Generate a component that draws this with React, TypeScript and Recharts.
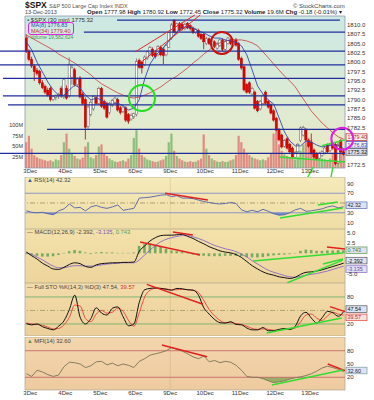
import React from 'react';
import {
  ComposedChart, Bar, Line, Area, XAxis, YAxis, CartesianGrid,
  ReferenceLine, ReferenceDot, ReferenceArea,
} from 'recharts';

const FONT = '"Liberation Sans", Arial, Helvetica, sans-serif';
const W = 374;
const X_DOMAIN: [number, number] = [-0.5, 118.5];

// ---------- categories (30-minute bars, day boundaries in bar units) ----------
const dayLabels = ['3Dec', '4Dec', '5Dec', '6Dec', '9Dec', '10Dec', '11Dec', '12Dec', '13Dec'];
const dayBoundaryBars = [1.5, 14.5, 27.5, 40.5, 53.5, 66.5, 79.5, 92.5, 105.5];
const weekBoundaryBar = 53.5;

// ---------- 30-minute OHLC ----------
const barOpen = [
  1806.5, 1803, 1800.8, 1799, 1797.8, 1797.5, 1794.5, 1793.5, 1792.5, 1793,
  1790, 1790.6, 1791, 1793, 1790.7, 1793, 1791, 1796, 1798, 1794,
  1795.8, 1791.5, 1790, 1782.8, 1786, 1787.5, 1790.5, 1789, 1793, 1789.5,
  1789, 1786.5, 1788.5, 1789.3, 1790, 1787.8, 1786.8, 1787.8, 1786, 1784.8,
  1785.5, 1786, 1800.5, 1800, 1799.3, 1801, 1802.5, 1803.5, 1802.5, 1802,
  1804, 1803.5, 1802, 1804, 1806.5, 1811.3, 1808, 1810.3, 1810.2, 1809,
  1810.4, 1809.8, 1809.2, 1808, 1808.6, 1807.5, 1807.5, 1805, 1806.3, 1804.8,
  1805.5, 1803.8, 1804.5, 1806, 1803.5, 1805, 1806, 1804.5, 1806, 1805,
  1801, 1798.8, 1794, 1794.5, 1791.5, 1792, 1789.5, 1787.5, 1789, 1792,
  1789.5, 1788.6, 1787, 1785, 1782, 1780.5, 1777.5, 1779.5, 1778, 1777,
  1774.5, 1776, 1779, 1780.5, 1782, 1779, 1778.5, 1776.5, 1775.5, 1774.3,
  1775, 1775.7, 1777.8, 1776.3, 1778.3, 1778, 1773, 1779, 1776,
];
const barHigh = [
  1807.5, 1803.5, 1801.5, 1799.5, 1798.5, 1798, 1795.2, 1794, 1793.2, 1793.5,
  1791.2, 1791.4, 1791.8, 1793.6, 1795.8, 1793.8, 1801.3, 1799.5, 1798.5, 1796,
  1796.3, 1792, 1790.6, 1788.5, 1789.8, 1791.2, 1791, 1793.5, 1793.4, 1790,
  1789.4, 1789.4, 1790.2, 1790.8, 1790.5, 1788.3, 1788.4, 1788.2, 1786.4, 1786.3,
  1786.5, 1801, 1801, 1800.4, 1801.8, 1803.2, 1804.4, 1804, 1803, 1804.6,
  1804.5, 1804, 1805, 1808.2, 1810.5, 1811.5, 1810.6, 1810.8, 1810.7, 1810.6,
  1810.8, 1810.2, 1809.6, 1809.2, 1809, 1807.9, 1808, 1806.8, 1806.6, 1806.4,
  1805.9, 1805.4, 1806.3, 1806.4, 1805.9, 1806.8, 1806.4, 1806.3, 1806.5, 1805.4,
  1801.5, 1799.2, 1794.4, 1794.9, 1793.5, 1792.4, 1789.9, 1789.9, 1791.4, 1792.4,
  1789.9, 1789, 1787.4, 1785.4, 1782.4, 1780.9, 1779.4, 1779.9, 1778.4, 1777.4,
  1776.2, 1778.4, 1782.8, 1783, 1782.4, 1779.4, 1780.9, 1776.9, 1775.9, 1776,
  1776.4, 1777.4, 1778.2, 1778.4, 1778.7, 1778.4, 1777.9, 1779.5, 1776.8,
];
const barLow = [
  1802.5, 1800.3, 1798.5, 1795, 1796.5, 1794, 1792.8, 1791.5, 1790.8, 1789.5,
  1789.6, 1789.8, 1790.2, 1790.5, 1790.2, 1790, 1790.5, 1794, 1793.5, 1793.5,
  1790.3, 1788.5, 1779.3, 1782, 1785.5, 1787, 1788.6, 1788.5, 1787.8, 1787.2,
  1784.9, 1786, 1788, 1789, 1786.8, 1786, 1786.3, 1784, 1783.5, 1784.3,
  1784.8, 1785.5, 1798.3, 1797, 1799, 1800.6, 1802, 1801.4, 1801, 1801.6,
  1801.6, 1799.5, 1801.6, 1803.8, 1806, 1807.8, 1807.6, 1808.3, 1808.5, 1808.6,
  1808.9, 1808.5, 1807.6, 1807.6, 1806.6, 1806, 1803.5, 1804.6, 1804.6, 1804.4,
  1803.8, 1803.4, 1804.1, 1803, 1803.2, 1804.7, 1804.6, 1804.2, 1804.2, 1800.4,
  1798, 1792.2, 1791.6, 1791.5, 1791.1, 1787.3, 1786.6, 1787.1, 1788.6, 1788.6,
  1787.6, 1786, 1784.1, 1781.4, 1778.8, 1776.9, 1777.1, 1776.6, 1775.6, 1774.2,
  1774.1, 1775.6, 1778.6, 1780.1, 1778.8, 1777.1, 1775.3, 1774.2, 1773.8, 1773.9,
  1774.6, 1775.3, 1775.6, 1775.9, 1776.6, 1772.45, 1772.6, 1775.6, 1775,
];
const barClose = [
  1803, 1800.8, 1799, 1797.5, 1797, 1794.5, 1793.2, 1792, 1791.2, 1790,
  1790.8, 1791, 1791.4, 1791, 1795.3, 1790.4, 1799.5, 1798.5, 1794, 1795.5,
  1790.7, 1789, 1782.6, 1788, 1789.3, 1790.8, 1789, 1793, 1788.2, 1787.7,
  1785.3, 1789, 1789.8, 1790.4, 1787.2, 1786.5, 1788, 1784.5, 1784.2, 1785.8,
  1786.2, 1800.2, 1798.7, 1798.5, 1801.4, 1802.8, 1804, 1801.8, 1801.5, 1804.2,
  1802, 1801.8, 1804.5, 1807.9, 1810, 1808.1, 1810.3, 1808.7, 1809, 1810.2,
  1809.2, 1809, 1808, 1808.8, 1807, 1806.4, 1805.5, 1806.3, 1805, 1806,
  1804.2, 1805, 1806, 1803.5, 1805.5, 1806.5, 1805, 1806, 1804.6, 1800.8,
  1798.5, 1792.6, 1792, 1792, 1793, 1787.7, 1787, 1789.5, 1791, 1789,
  1788, 1786.4, 1784.5, 1781.8, 1779.2, 1777.3, 1779, 1777, 1776, 1774.6,
  1775.8, 1778, 1782.4, 1782.5, 1779.2, 1777.5, 1775.7, 1774.6, 1774.2, 1775.6,
  1776, 1777, 1776, 1778, 1777, 1772.8, 1777.5, 1776, 1775.32,
];
const barVolumeM = [
  60, 75,
  45, 30, 25, 22, 20, 18, 16, 18, 15, 20, 18, 30, 60,
  80, 45, 35, 28, 22, 20, 24, 50, 60, 25, 22, 30, 50,
  55, 35, 28, 22, 18, 15, 14, 16, 18, 15, 22, 30, 70,
  88, 45, 30, 25, 20, 18, 16, 14, 15, 18, 20, 28, 60,
  80, 40, 28, 22, 18, 15, 14, 16, 14, 15, 18, 22, 78,
  45, 30, 22, 18, 15, 14, 16, 14, 15, 18, 20, 30, 75,
  60, 45, 35, 30, 25, 22, 20, 18, 20, 18, 25, 35, 80,
  85, 55, 40, 32, 28, 25, 22, 20, 25, 40, 55, 75, 70,
  65, 40, 30, 25, 22, 20, 18, 22, 35, 55, 60, 40, 45,
];

// ---------- overlays / indicators read every second bar ----------
const ma8Values = [
  1805.5, 1803.3, 1800.0, 1797.4, 1794.7, 1792.6, 1791.2, 1791.2, 1792.6, 1793.9,
  1793.1, 1791.2, 1789.9, 1790.4, 1789.9, 1788.8, 1788.8, 1789.1, 1788.3, 1787.2,
  1787.7, 1790.0, 1795.5, 1799.5, 1801.8, 1803.2, 1804.8, 1806.5, 1808.2, 1809.4,
  1809.5, 1809.2, 1808.4, 1807.9, 1807.1, 1806.5, 1806.5, 1806.0, 1805.7, 1805.4,
  1804.4, 1802.0, 1797.9, 1793.6, 1791.5, 1789.9, 1788.8, 1785.1, 1781.3, 1778.9,
  1777.6, 1777.6, 1778.9, 1778.6, 1777.8, 1777.3, 1777.6, 1777.8, 1777.8, 1776.83,
];
const ma34Values = [
  1807.3, 1806.5, 1805.7, 1804.9, 1804.1, 1803.3, 1802.2, 1801.4, 1800.6, 1799.8,
  1798.7, 1797.7, 1796.6, 1795.3, 1794.2, 1793.4, 1792.6, 1791.8, 1791.2, 1790.7,
  1790.4, 1790.7, 1791.2, 1791.8, 1792.6, 1793.4, 1794.5, 1795.5, 1796.3, 1797.4,
  1798.5, 1799.8, 1800.9, 1802.2, 1803.3, 1804.4, 1805.2, 1805.7, 1806.0, 1806.0,
  1806.0, 1805.7, 1805.2, 1804.4, 1802.8, 1801.2, 1799.5, 1797.9, 1796.3, 1795.0,
  1793.4, 1791.2, 1789.1, 1786.9, 1785.3, 1783.7, 1782.4, 1781.1, 1780.0, 1779.4,
];
const rsiValues = [
  34, 31, 30, 31, 28, 26, 34, 38, 48, 40,
  41, 34, 42, 45, 41, 39, 42, 46, 35, 37,
  39, 60, 61, 62, 64, 66, 67, 63, 65, 60,
  60, 59, 56, 53, 51, 49, 48, 49, 51, 49,
  36, 32, 35, 32, 37, 33, 28, 25, 26, 30,
  36, 39, 33, 34, 36, 38, 42, 44, 40, 42.32,
];
const macdValues = [
  0.3, -0.6, -1.4, -2.4, -3.1, -3.8, -3.9, -3.4, -2.7, -2.3,
  -2.5, -3.2, -3.4, -2.8, -2.5, -2.4, -2.3, -2.3, -2.2, -2.2,
  -2.1, 0.5, 1.8, 3.0, 3.8, 4.3, 4.4, 4.4, 4.5, 4.6,
  4.1, 3.6, 2.9, 2.3, 1.6, 1.1, 0.6, 0.3, 0.1, -0.3,
  -1.0, -2.0, -3.0, -3.8, -4.5, -5.0, -5.3, -5.7, -5.9, -6.1,
  -5.8, -5.1, -4.6, -4.5, -4.3, -4.0, -3.6, -3.2, -2.8, -2.392,
];
const signalValues = [
  0.2, -0.3, -0.9, -1.6, -2.4, -3.1, -3.5, -3.5, -3.2, -3.0,
  -3.0, -3.1, -3.1, -3.0, -2.8, -2.6, -2.5, -2.4, -2.3, -2.3,
  -2.3, -1.6, -0.4, 0.8, 1.9, 2.8, 3.4, 3.8, 4.1, 4.3,
  4.3, 4.0, 3.6, 3.1, 2.5, 1.9, 1.5, 1.1, 0.8, 0.4,
  -0.2, -0.9, -1.8, -2.6, -3.4, -4.1, -4.6, -5.0, -5.4, -5.7,
  -5.8, -5.6, -5.3, -5.1, -4.9, -4.6, -4.3, -3.9, -3.5, -3.135,
];
const histValues = [
  -0.2, -0.4, -0.6, -0.8, -0.8, -0.7, -0.4, 0.1, 0.5, 0.8,
  0.6, 0.2, -0.2, 0.2, 0.3, 0.2, 0.2, 0.1, 0.1, 0.1,
  0.2, 1.8, 2.2, 2.4, 2.0, 1.6, 1.1, 0.7, 0.5, 0.3,
  -0.1, -0.3, -0.5, -0.6, -0.7, -0.7, -0.7, -0.6, -0.6, -0.6,
  -0.7, -0.9, -1.0, -1.0, -0.9, -0.7, -0.5, -0.4, -0.3, -0.2,
  0.1, 0.6, 0.9, 0.8, 0.6, 0.6, 0.7, 0.7, 0.8, 0.743,
];
const stoKValues = [
  21, 18, 20, 14, 10, 7, 15, 27, 52, 84,
  35, 20, 32, 56, 44, 40, 55, 58, 36, 16,
  20, 68, 96, 99, 100, 99, 97, 95, 99, 98,
  96, 95, 84, 56, 42, 30, 23, 22, 25, 19,
  18, 11, 7, 7, 12, 5, 5, 8, 10, 8,
  15, 38, 46, 33, 22, 34, 48, 45, 37, 47.54,
];
const stoDValues = [
  22, 20, 19, 17, 13, 9, 10, 18, 35, 62,
  60, 32, 25, 42, 50, 44, 46, 55, 48, 28,
  15, 45, 80, 95, 99, 99, 98, 96, 96, 97,
  96, 95, 90, 72, 52, 38, 28, 23, 23, 21,
  19, 15, 10, 8, 9, 8, 6, 7, 8, 9,
  11, 25, 40, 42, 33, 28, 38, 46, 42, 39.57,
];
const mfiValues = [
  28, 22, 36, 32, 26, 22, 25, 44, 54, 53,
  50, 42, 46, 55, 56, 48, 52, 46, 50, 47,
  42, 56, 62, 70, 73, 76, 80, 87, 83, 79,
  73, 66, 62, 68, 55, 58, 53, 56, 54, 47,
  36, 22, 20, 20, 17, 12, 8, 10, 12, 16,
  19, 21, 24, 28, 34, 41, 45, 42, 38, 32.6,
];

// ---------- tick labels (the ones not hidden behind last-value tags) ----------
const priceTicks = [1772.5, 1782.5, 1785, 1787.5, 1790, 1792.5, 1795, 1797.5, 1800, 1802.5, 1805, 1807.5, 1810];
const volumeTicks = [25, 50, 75, 100];
const rsiTicks = [10, 30, 70, 90];
const macdTicks = [-5, 2.5, 5];
const stoTicks = [20, 80];
const mfiTicks = [20, 50, 80];

// ---------- hand-drawn horizontal levels (price, from bar, to bar) ----------
const levelPrices = [1811.3, 1808.1, 1803.0, 1799.3, 1795.7, 1791.0, 1788.6, 1782.0, 1775.6];
const levelFrom = [33.7, 21.4, -9.8, -9.8, -8.7, -8.7, -6.8, 7.7, -9.8];
const levelTo = [116.6, 118.5, 118.5, 118.5, 118.5, 118.5, 118.5, 118.5, 118.5];

type Seg = { a: [number, number]; b: [number, number]; c: string; w?: number };
const priceSegs: Seg[] = [
  { a: [40.5, 1802.8], b: [62.7, 1812.7], c: '#e02828' },
  { a: [43, 1800.2], b: [64.7, 1812.7], c: '#e02828' },
  { a: [93.9, 1774.6], b: [118.5, 1773.3], c: '#33dd33', w: 1.5 },
  { a: [109.9, 1777.6], b: [118.5, 1779.2], c: '#33dd33', w: 1.5 },
  { a: [104.7, 1769.2], b: [106.6, 1771.9], c: '#33dd33', w: 1.4 },
  { a: [113.3, 1769.2], b: [114.0, 1771.9], c: '#33dd33', w: 1.4 },
];
const rsiSegs: Seg[] = [
  { a: [51.6, 69.9], b: [67.5, 56.2], c: '#e02020', w: 1.4 },
  { a: [94.3, 19.2], b: [117.7, 39.7], c: '#33dd33', w: 1.4 },
  { a: [108.4, 45.9], b: [115.8, 52.1], c: '#33dd33', w: 1.4 },
];
const macdSegs: Seg[] = [
  { a: [42.3, 2.74], b: [64.6, -0.41], c: '#e02020', w: 1.4 },
  { a: [54.5, 5.17], b: [61.9, 4.44], c: '#e02020', w: 1.4 },
  { a: [84.3, -1.87], b: [117.7, 0.07], c: '#33dd33', w: 1.4 },
  { a: [96.9, -7.2], b: [117.7, -1.63], c: '#33dd33', w: 1.4 },
  { a: [110.3, -2.6], b: [117.7, -1.38], c: '#33dd33', w: 1.4 },
  { a: [111.8, 1.53], b: [118.5, 1.04], c: '#e02020', w: 1.4 },
];
const stoSegs: Seg[] = [
  { a: [44.8, 108], b: [65.7, 63.8], c: '#e02020', w: 1.4 },
  { a: [112.9, 58.4], b: [118.5, 47.3], c: '#e02020', w: 1.4 },
  { a: [89.4, 0], b: [117.3, 33.3], c: '#33dd33', w: 1.4 },
];
const mfiSegs: Seg[] = [
  { a: [50.4, 92.9], b: [67.2, 66.5], c: '#e02020', w: 1.4 },
  { a: [112.1, 50], b: [118.5, 34.9], c: '#e02020', w: 1.4 },
  { a: [91.3, 2.6], b: [117.7, 36.4], c: '#33dd33', w: 1.4 },
];

// ---------- table rows ----------
const priceRows = barOpen.map((o, k) => ({
  k, o, h: barHigh[k], l: barLow[k], c: barClose[k], vol: barVolumeM[k],
  ma8: k % 2 === 0 ? ma8Values[k / 2] : null,
  ma34: k % 2 === 0 ? ma34Values[k / 2] : null,
}));
const indRows = rsiValues.map((v, j) => ({
  k: j * 2,
  rsi: v, rsiLow: Math.min(v, 30),
  macd: macdValues[j], signal: signalValues[j], hist: histValues[j],
  pk: stoKValues[j], pd: stoDValues[j],
  mfi: mfiValues[j], mfiLow: Math.min(mfiValues[j], 20),
}));

const dayFmt = (v: number) => dayLabels[dayBoundaryBars.indexOf(v)] ?? '';
const tickStyle = { fontSize: 6, fill: '#333', fontFamily: FONT };

const Candle = (p: any) => {
  const { x, y, width, height, payload } = p;
  if (!payload || x == null || y == null) return null;
  const top = Math.min(y, y + height);
  const hgt = Math.abs(height);
  const span = payload.h - payload.l || 1;
  const py = (v: number) => top + ((payload.h - v) / span) * hgt;
  const cx = x + width / 2;
  const up = payload.c >= payload.o;
  const yT = py(Math.max(payload.o, payload.c));
  const yB = py(Math.min(payload.o, payload.c));
  return (
    <g>
      <line x1={cx} x2={cx} y1={top} y2={top + hgt} stroke={up ? '#6a6a6a' : '#b00000'} strokeWidth={0.8} />
      <rect x={cx - 1.1} y={yT} width={2.2} height={Math.max(0.8, yB - yT)}
        fill={up ? '#ffffff' : '#e00000'} stroke={up ? '#555555' : '#c00000'} strokeWidth={0.5} />
    </g>
  );
};

const VolBar = (p: any) => {
  const { x, y, width, height, payload } = p;
  if (!payload || height == null) return null;
  const up = payload.c >= payload.o;
  const cx = x + width / 2;
  return <rect x={cx - 1.1} y={Math.min(y, y + height)} width={2.2} height={Math.abs(height)} fill={up ? '#8cbf7c' : '#e08a84'} />;
};

const HistBar = (p: any) => {
  const { x, y, width, height } = p;
  if (x == null || height == null) return null;
  const cx = x + width / 2;
  return <rect x={cx - 1.3} y={Math.min(y, y + height)} width={2.6} height={Math.abs(height)} fill="#78ab62" />;
};

function makeTag(text: string, stroke: string, fill: string, color: string, dy = 0) {
  return (props: any) => {
    const vb = props && props.viewBox;
    if (!vb) return null;
    const x = vb.x + vb.width + 1;
    const y = vb.y + dy;
    return (
      <g>
        <rect x={x} y={y - 3.3} width={21} height={6.6} fill={fill} stroke={stroke} strokeWidth={0.7} />
        <text x={x + 1.5} y={y + 2} fontSize={5.4} fill={color} fontFamily={FONT}>{text}</text>
      </g>
    );
  };
}

const segLines = (segs: Seg[], key: string) =>
  segs.map((s, i) => (
    <ReferenceLine key={key + i} segment={[{ x: s.a[0], y: s.a[1] }, { x: s.b[0], y: s.b[1] }]}
      stroke={s.c} strokeWidth={s.w ?? 1} ifOverflow="visible" />
  ));

const Txt = ({ left, top, size, color, children, bold }: any) => (
  <div style={{ position: 'absolute', left, top, fontSize: size, color, fontFamily: FONT, whiteSpace: 'nowrap', lineHeight: 1, fontWeight: bold ? 700 : 400 }}>
    {children}
  </div>
);

const yAxisRight = (domain: [number, number], ticks: number[], fmt?: (v: number) => string) => (
  <YAxis orientation="right" width={29} domain={domain} ticks={ticks} tickFormatter={fmt} interval={0}
    tick={tickStyle} axisLine={false} tickLine={false} tickSize={0} tickMargin={2} allowDataOverflow />
);

export default function App() {
  return (
    <div style={{ position: 'absolute', left: 0, top: 0, width: W, height: 400, background: '#ffffff', overflow: 'hidden' }}>
      {/* price panel: background + volume */}
      <div style={{ position: 'absolute', left: 0, top: 0 }}>
        <ComposedChart width={W} height={180} data={priceRows} margin={{ top: 16, right: 29, bottom: 12, left: 0 }}>
          <defs>
            <linearGradient id="gPrice" x1="0" y1="0" x2="0" y2="1">
              <stop offset="0" stopColor="#cce8e3" />
              <stop offset="0.55" stopColor="#dcebd5" />
              <stop offset="1" stopColor="#ece8c0" />
            </linearGradient>
          </defs>
          <CartesianGrid fill="url(#gPrice)" stroke="none" horizontal={false} vertical={false} />
          <XAxis dataKey="k" type="number" domain={X_DOMAIN} hide allowDataOverflow />
          <YAxis orientation="left" width={25} domain={[0, 353.5]} ticks={volumeTicks} interval={0} tickFormatter={(v: number) => `${v}M`}
            tick={{ fontSize: 5.5, fill: '#333', fontFamily: FONT }} axisLine={false} tickLine={false} tickSize={0} tickMargin={2} allowDataOverflow />
          <Bar dataKey="vol" barSize={3} shape={VolBar} isAnimationActive={false} />
        </ComposedChart>
      </div>

      {/* price panel: candles, moving averages, drawn levels */}
      <div style={{ position: 'absolute', left: 0, top: 0 }}>
        <ComposedChart width={W} height={180} data={priceRows} margin={{ top: 16, right: 0, bottom: 0, left: 25 }}>
          <XAxis dataKey="k" type="number" domain={X_DOMAIN} ticks={dayBoundaryBars} tickFormatter={dayFmt} interval={0}
            height={12} axisLine={false} tickLine={false} tickSize={0} tickMargin={1} tick={tickStyle} allowDataOverflow />
          {yAxisRight([1771.66, 1812.41], priceTicks, (v: number) => v.toFixed(1))}
          <ReferenceArea x1={-0.5} x2={118.5} y1={1771.66} y2={1812.41} fill="none" stroke="#8d97b3" strokeWidth={0.8} ifOverflow="visible" />
          <Bar dataKey={(d: any) => [d.l, d.h]} barSize={3} shape={Candle} isAnimationActive={false} />
          <Line dataKey="ma34" stroke="#cc3a3a" strokeWidth={0.8} dot={false} connectNulls isAnimationActive={false} />
          <Line dataKey="ma8" stroke="#3448b0" strokeWidth={0.9} dot={false} connectNulls isAnimationActive={false} />
          {levelPrices.map((p, i) => (
            <ReferenceLine key={'lv' + i} segment={[{ x: levelFrom[i], y: p }, { x: levelTo[i], y: p }]}
              stroke="#1f2c9c" strokeWidth={1.3} ifOverflow="visible" />
          ))}
          {segLines(priceSegs, 'ps')}
          <ReferenceDot x={43} y={1790.4} r={13} fill="none" stroke="#22dd22" strokeWidth={2} ifOverflow="visible" />
          <ReferenceDot x={72.7} y={1805.2} r={11} fill="none" stroke="#cc1111" strokeWidth={2} ifOverflow="visible" />
          <ReferenceLine y={1779.4} stroke="none" label={makeTag('1779.40', '#c02020', '#f4f4f8', '#c02020', -2)} />
          <ReferenceLine y={1776.83} stroke="none" label={makeTag('1776.83', '#3448b0', '#f4f4f8', '#3448b0', -4)} />
          <ReferenceLine y={1775.32} stroke="none" label={makeTag('1775.32', '#555', '#d8def0', '#111', -2.4)} />
          <ReferenceDot x={117.5} y={1779.5} r={11} fill="none" stroke="#e020e0" strokeWidth={2} ifOverflow="visible" />
        </ComposedChart>
      </div>

      {/* RSI */}
      <div style={{ position: 'absolute', left: 0, top: 177 }}>
        <ComposedChart width={W} height={52} data={indRows} margin={{ top: 0, right: 0, bottom: 0, left: 25 }}>
          <defs>
            <linearGradient id="gRsi" x1="0" y1="0" x2="0" y2="1">
              <stop offset="0" stopColor="#f5eabb" />
              <stop offset="1" stopColor="#efdda4" />
            </linearGradient>
          </defs>
          <CartesianGrid fill="url(#gRsi)" stroke="none" horizontal={false} vertical={false} />
          <XAxis dataKey="k" type="number" domain={X_DOMAIN} hide allowDataOverflow />
          {yAxisRight([-3.3, 103.3], rsiTicks)}
          <ReferenceLine x={weekBoundaryBar} stroke="#dcc890" strokeWidth={0.7} />
          <ReferenceLine y={70} stroke="#7f8cc6" strokeWidth={0.9} />
          <ReferenceLine y={30} stroke="#7f8cc6" strokeWidth={0.9} />
          <ReferenceLine y={50} stroke="#a08c62" strokeWidth={0.8} strokeDasharray="5 2 1 2" />
          <Area dataKey="rsiLow" baseValue={30} fill="#5a7ed0" fillOpacity={0.85} stroke="none" isAnimationActive={false} />
          <Line dataKey="rsi" stroke="#5060aa" strokeWidth={0.9} dot={false} isAnimationActive={false} />
          {segLines(rsiSegs, 'rs')}
          <ReferenceLine y={42.32} stroke="none" label={makeTag('42.32', '#5a6cb0', '#dde3f3', '#223', -1.5)} />
          <ReferenceArea x1={-0.5} x2={118.5} y1={-3.3} y2={103.3} fill="none" stroke="#aaa48c" strokeWidth={0.7} ifOverflow="visible" />
        </ComposedChart>
      </div>

      {/* MACD */}
      <div style={{ position: 'absolute', left: 0, top: 229 }}>
        <ComposedChart width={W} height={54} data={indRows} margin={{ top: 0, right: 0, bottom: 0, left: 25 }}>
          <defs>
            <linearGradient id="gMacd" x1="0" y1="0" x2="0" y2="1">
              <stop offset="0" stopColor="#f3e1ab" />
              <stop offset="1" stopColor="#edd59c" />
            </linearGradient>
          </defs>
          <CartesianGrid fill="url(#gMacd)" stroke="none" horizontal={false} vertical={false} />
          <XAxis dataKey="k" type="number" domain={X_DOMAIN} hide allowDataOverflow />
          {yAxisRight([-7.2, 5.9], macdTicks, (v: number) => v.toFixed(1))}
          <ReferenceLine x={weekBoundaryBar} stroke="#d8c28a" strokeWidth={0.7} />
          <Bar dataKey="hist" barSize={3} shape={HistBar} isAnimationActive={false} />
          <Line type="monotone" dataKey="signal" stroke="#8a66c4" strokeWidth={0.9} dot={false} isAnimationActive={false} />
          <Line type="monotone" dataKey="macd" stroke="#111" strokeWidth={1} dot={false} isAnimationActive={false} />
          {segLines(macdSegs, 'ms')}
          <ReferenceLine y={0.743} stroke="none" label={makeTag('0.743', '#5a9a4a', '#dde3f3', '#3a7a2a', 0)} />
          <ReferenceLine y={-2.392} stroke="none" label={makeTag('-2.392', '#555', '#dde3f3', '#111', -2.6)} />
          <ReferenceLine y={-3.135} stroke="none" label={makeTag('-3.135', '#8a66c4', '#dde3f3', '#6a46a4', 2.8)} />
          <ReferenceArea x1={-0.5} x2={118.5} y1={-7.2} y2={5.9} fill="none" stroke="#aaa48c" strokeWidth={0.7} ifOverflow="visible" />
        </ComposedChart>
      </div>

      {/* Full Stochastics */}
      <div style={{ position: 'absolute', left: 0, top: 283 }}>
        <ComposedChart width={W} height={53} data={indRows} margin={{ top: 0, right: 0, bottom: 0, left: 25 }}>
          <defs>
            <linearGradient id="gSto" x1="0" y1="0" x2="0" y2="1">
              <stop offset="0" stopColor="#f2dcaa" />
              <stop offset="1" stopColor="#eccf9a" />
            </linearGradient>
          </defs>
          <CartesianGrid fill="url(#gSto)" stroke="none" horizontal={false} vertical={false} />
          <XAxis dataKey="k" type="number" domain={X_DOMAIN} hide allowDataOverflow />
          {yAxisRight([-6.7, 111], stoTicks)}
          <ReferenceLine x={weekBoundaryBar} stroke="#d6bd88" strokeWidth={0.7} />
          <ReferenceLine y={80} stroke="#74b06e" strokeWidth={0.9} />
          <ReferenceLine y={20} stroke="#74b06e" strokeWidth={0.9} />
          <ReferenceLine y={50} stroke="#a09a62" strokeWidth={0.8} strokeDasharray="5 2 1 2" />
          <Line type="monotone" dataKey="pd" stroke="#e5403a" strokeWidth={0.9} dot={false} isAnimationActive={false} />
          <Line type="monotone" dataKey="pk" stroke="#111" strokeWidth={1} dot={false} isAnimationActive={false} />
          {segLines(stoSegs, 'ss')}
          <ReferenceLine y={47.54} stroke="none" label={makeTag('47.54', '#555', '#dde3f3', '#111', -2.5)} />
          <ReferenceLine y={39.57} stroke="none" label={makeTag('39.57', '#e5403a', '#f6e0dc', '#c02020', 2.2)} />
          <ReferenceArea x1={-0.5} x2={118.5} y1={-6.7} y2={111} fill="none" stroke="#aaa48c" strokeWidth={0.7} ifOverflow="visible" />
        </ComposedChart>
      </div>

      {/* MFI */}
      <div style={{ position: 'absolute', left: 0, top: 337 }}>
        <ComposedChart width={W} height={63} data={indRows} margin={{ top: 0, right: 0, bottom: 0, left: 25 }}>
          <defs>
            <linearGradient id="gMfi" x1="0" y1="0" x2="0" y2="1">
              <stop offset="0" stopColor="#f3d6ad" />
              <stop offset="1" stopColor="#eecaa0" />
            </linearGradient>
          </defs>
          <CartesianGrid fill="url(#gMfi)" stroke="none" horizontal={false} vertical={false} />
          <XAxis dataKey="k" type="number" domain={X_DOMAIN} ticks={dayBoundaryBars} tickFormatter={dayFmt} interval={0}
            height={10} axisLine={false} tickLine={false} tickSize={0} tickMargin={1} tick={tickStyle} allowDataOverflow />
          {yAxisRight([-8.7, 111], mfiTicks)}
          <ReferenceLine x={weekBoundaryBar} stroke="#d6b88c" strokeWidth={0.7} />
          <ReferenceLine y={80} stroke="#c46a6a" strokeWidth={0.9} />
          <ReferenceLine y={20} stroke="#c46a6a" strokeWidth={0.9} />
          <Area dataKey="mfiLow" baseValue={20} fill="#86a85c" fillOpacity={0.85} stroke="none" isAnimationActive={false} />
          <Line dataKey="mfi" stroke="#7a7456" strokeWidth={0.9} dot={false} isAnimationActive={false} />
          {segLines(mfiSegs, 'fs')}
          <ReferenceLine y={32.6} stroke="none" label={makeTag('32.60', '#7a9a9a', '#dde3f3', '#223', -1.2)} />
          <ReferenceArea x1={-0.5} x2={118.5} y1={-8.7} y2={111} fill="none" stroke="#aaa48c" strokeWidth={0.7} ifOverflow="visible" />
        </ComposedChart>
      </div>

      {/* header */}
      <Txt left={25} top={1} size={8.5} color="#111" bold>
        $SPX <span style={{ fontSize: 5.5, color: '#555', fontWeight: 400 }}>S&amp;P 500 Large Cap Index INDX</span>
      </Txt>
      <Txt left={293} top={2.5} size={6} color="#444">© StockCharts.com</Txt>
      <Txt left={25} top={9.5} size={5.5} color="#444">13-Dec-2013</Txt>
      <Txt left={87} top={9.3} size={6} color="#222">
        <b>Open</b> 1777.98 <b>High</b> 1780.92 <b>Low</b> 1772.45 <b>Close</b> 1775.32 <b>Volume</b> 19.6M <b>Chg</b> -0.18 (-0.01%) ▾
      </Txt>

      {/* price legend */}
      <Txt left={27} top={16.5} size={6} color="#333"><span style={{ color: '#355' }}>▪</span> $SPX (30 min) 1775.32</Txt>
      <div style={{ position: 'absolute', left: 28, top: 21.5, width: 46, height: 13.5, border: '1.5px solid #e020e0', borderRadius: 3, boxSizing: 'border-box' }} />
      <Txt left={31} top={22.8} size={5.5} color="#3448b0">MA(8) 1776.83</Txt>
      <Txt left={31} top={28.6} size={5.5} color="#c83232">MA(34) 1779.40</Txt>
      <Txt left={27} top={35} size={5} color="#4a9a4a">▪ Volume 19,582,624</Txt>

      {/* indicator legends */}
      <Txt left={27} top={177.8} size={5.8} color="#444"><span style={{ color: '#3a55b0' }}>▲</span> RSI(14) 42.32</Txt>
      <Txt left={27} top={230.2} size={5.8} color="#444">
        — MACD(12,26,9) -2.392, <span style={{ color: '#7a56b4' }}>-3.135</span>, <span style={{ color: '#5a9a4a' }}>0.743</span>
      </Txt>
      <Txt left={27} top={284.5} size={5.8} color="#444">
        — Full STO %K(14,3) %D(3) 47.54, <span style={{ color: '#d03030' }}>39.57</span>
      </Txt>
      <Txt left={27} top={338.5} size={5.8} color="#444"><span style={{ color: '#5a9a4a' }}>▲</span> MFI(14) 32.60</Txt>
    </div>
  );
}
